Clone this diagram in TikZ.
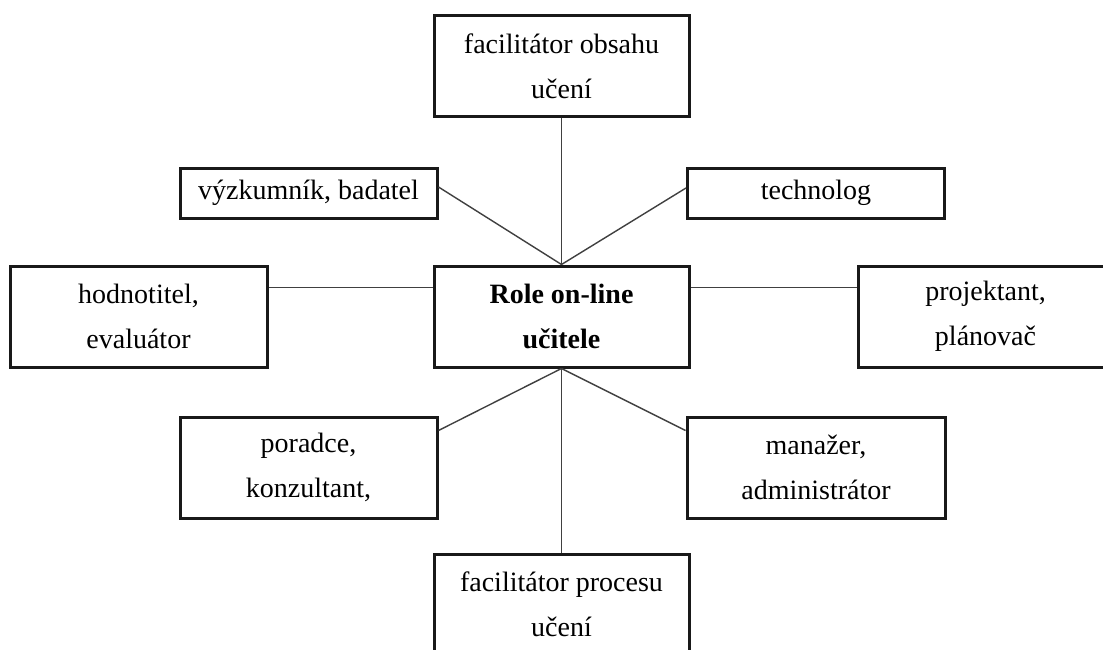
\documentclass[tikz,border=0pt]{standalone}
\usepackage{fontspec}
\setmainfont{Liberation Serif}
\begin{document}
\begin{tikzpicture}[x=1pt,y=-1pt,
  box/.style={draw=black!90,line width=3pt,rectangle,align=center,
    font=\fontsize{28}{45}\selectfont,inner sep=2pt,fill=white},
  big/.style={box,minimum width=255pt,minimum height=101pt},
  small/.style={box,minimum width=257pt,minimum height=50pt},
  conn/.style={draw=black!75,line width=1.4pt}]
\clip (0,0) rectangle (1103,650);
\fill[white] (0,0) rectangle (1103,650);
\node[big] (top) at (561.5,66.5) {facilitátor obsahu\\učení};
\node[small] (vyz) at (308.5,193) {výzkumník, badatel};
\node[small] (tech) at (816,193) {technolog};
\node[big,minimum width=257pt] (hod) at (138.5,316.5) {hodnotitel,\\evaluátor};
\node[big] (role) at (561.5,316.5) {\bfseries Role on-line\\\bfseries učitele};
\node[big] (proj) at (985.5,316.5) {projektant,\\plánovač};
\node[big,minimum width=257pt] (por) at (308.5,467.5) {poradce,\\konzultant,};
\node[big,minimum width=258pt] (man) at (816,467.5) {manažer,\\administrátor};
\node[big] (bot) at (561.5,604.5) {facilitátor procesu\\učení};
\draw[conn] (top.south) -- (role.north);
\draw[conn] ([yshift=6pt]vyz.east) -- (role.north);
\draw[conn] ([yshift=5pt]tech.west) -- (role.north);
\draw[conn] ([yshift=29pt]hod.east) -- ([yshift=29pt]role.west);
\draw[conn] ([yshift=29pt]role.east) -- ([yshift=29pt]proj.west);
\draw[conn] ([yshift=37pt]por.east) -- (role.south);
\draw[conn] ([yshift=37pt]man.west) -- (role.south);
\draw[conn] (role.south) -- (bot.north);
\end{tikzpicture}
\end{document}
